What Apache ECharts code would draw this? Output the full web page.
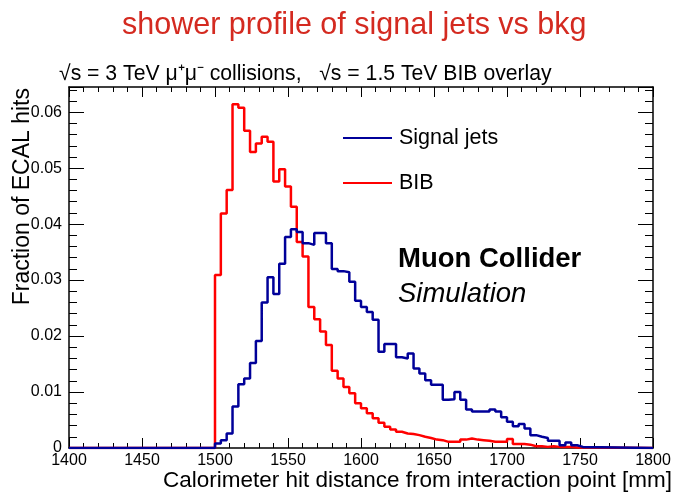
<!DOCTYPE html>
<html>
<head>
<meta charset="utf-8">
<script src="https://cdn.jsdelivr.net/npm/echarts@6/dist/echarts.min.js"></script>
<style>
html, body { margin: 0; padding: 0; background: #fff; }
#chart { width: 675px; height: 494px; }
</style>
</head>
<body>
<div id="chart"></div>
<script>
// histogram binning (mm)
var binStart = 1500;
var binWidth = 4;

// BIB, per bin starting at 1500 mm
var bibValues = [
	0.0309, 0.0419, 0.0461, 0.0614, 0.0608, 0.0567, 0.0529, 0.0544, 0.0556, 0.0547,
	0.0476, 0.0498, 0.0467, 0.0431, 0.0368, 0.0342, 0.0252, 0.0230, 0.0208, 0.0184,
	0.0138, 0.0124, 0.0109, 0.0098, 0.0080, 0.0071, 0.0062, 0.0053, 0.0045, 0.0038,
	0.0033, 0.0029, 0.0026, 0.0025, 0.0023, 0.0020, 0.0018, 0.0015, 0.0014, 0.0011,
	0.0011, 0.0011, 0.0015, 0.0017, 0.0015, 0.0014, 0.0013, 0.0011, 0.0011, 0.0011,
	0.0016, 0.0007, 0.0007, 0.0006, 0.0003, 0.0003, 0.0002, 0.0003, 0.0002, 0.0002,
	0.0002, 0.0001, 0.0001, 0.0001
];

// Signal jets, per bin starting at 1500 mm
var signalValues = [
	0.0008, 0.0014, 0.0026, 0.0074, 0.0114, 0.0124, 0.0152, 0.0191, 0.0260, 0.0305,
	0.0275, 0.0329, 0.0377, 0.0391, 0.0386, 0.0366, 0.0363, 0.0384, 0.0384, 0.0366,
	0.0320, 0.0316, 0.0314, 0.0297, 0.0263, 0.0252, 0.0243, 0.0229, 0.0172, 0.0186,
	0.0186, 0.0162, 0.0160, 0.0169, 0.0142, 0.0133, 0.0121, 0.0113, 0.0113, 0.0086,
	0.0087, 0.0100, 0.0086, 0.0069, 0.0065, 0.0065, 0.0065, 0.0069, 0.0065, 0.0055,
	0.0047, 0.0039, 0.0043, 0.0035, 0.0023, 0.0020, 0.0018, 0.0013, 0.0013, 0.0005,
	0.0010, 0.0005, 0.0002
];

var seriesNames = ['Signal jets', 'BIB'];
var xRange = [1400, 1800];
var yRange = [0, 0.0645];

var font = '"Liberation Sans", Arial, Helvetica, sans-serif';

// turn bin contents into step points (left edges + closing point)
function histPoints(values) {
	var pts = [[xRange[0], 0]];
	for (var i = 0; i < values.length; i++) {
		pts.push([binStart + i * binWidth, values[i]]);
	}
	pts.push([binStart + values.length * binWidth, 0]);
	pts.push([xRange[1], 0]);
	return pts;
}

var chart = echarts.init(document.getElementById('chart'));

var grid = { left: 69, right: 22, top: 87, bottom: 46 };

var option = {
	animation: false,
	textStyle: { fontFamily: font },
	title: [{
		text: 'shower profile of signal jets vs bkg',
		left: 117,
		top: 5,
		textStyle: { color: '#d42a20', fontSize: 30.5, fontWeight: 'normal', fontFamily: font }
	}, {
		text: '√s = 3 TeV μ⁺μ⁻ collisions,   √s = 1.5 TeV BIB overlay',
		left: 54,
		top: 59,
		textStyle: { color: '#000', fontSize: 21.2, fontWeight: 'normal', fontFamily: font }
	}],
	grid: grid,
	legend: {
		data: seriesNames,
		orient: 'vertical',
		left: 338,
		top: 122,
		icon: 'rect',
		itemWidth: 49,
		itemHeight: 2,
		itemGap: 23,
		textStyle: { fontSize: 21.5, color: '#000', fontFamily: font, padding: [0, 0, 0, 2] }
	},
	xAxis: [{
		type: 'value',
		min: xRange[0],
		max: xRange[1],
		interval: 50,
		position: 'bottom',
		axisLine: { onZero: false, lineStyle: { color: '#000', width: 1.5 } },
		axisTick: { inside: true, length: 10, lineStyle: { color: '#000' } },
		minorTick: { show: true, splitNumber: 5, length: 5, lineStyle: { color: '#000' } },
		axisLabel: {
			color: '#000', fontSize: 16, margin: 5, fontFamily: font,
			formatter: function (v) { return String(v); }
		},
		splitLine: { show: false }
	}, {
		type: 'value',
		min: xRange[0],
		max: xRange[1],
		interval: 50,
		position: 'top',
		axisLine: { onZero: false, lineStyle: { color: '#000', width: 1.5 } },
		axisTick: { inside: true, length: 10, lineStyle: { color: '#000' } },
		minorTick: { show: true, splitNumber: 5, length: 5, lineStyle: { color: '#000' } },
		axisLabel: { show: false },
		splitLine: { show: false }
	}],
	yAxis: [{
		type: 'value',
		min: yRange[0],
		max: yRange[1],
		interval: 0.01,
		position: 'left',
		axisLine: { show: true, onZero: false, lineStyle: { color: '#000', width: 1.5 } },
		axisTick: { show: true, inside: true, length: 15, lineStyle: { color: '#000' } },
		minorTick: { show: true, splitNumber: 5, length: 8, lineStyle: { color: '#000' } },
		axisLabel: {
			color: '#000', fontSize: 16, margin: 7, fontFamily: font, showMaxLabel: false,
			formatter: function (v) { return v === 0 ? '0' : v.toFixed(2); }
		},
		splitLine: { show: false }
	}, {
		type: 'value',
		min: yRange[0],
		max: yRange[1],
		interval: 0.01,
		position: 'right',
		axisLine: { show: true, onZero: false, lineStyle: { color: '#000', width: 1.5 } },
		axisTick: { show: true, inside: true, length: 15, lineStyle: { color: '#000' } },
		minorTick: { show: true, splitNumber: 5, length: 8, lineStyle: { color: '#000' } },
		axisLabel: { show: false },
		splitLine: { show: false }
	}],
	series: [{
		name: 'BIB',
		type: 'line',
		step: 'end',
		data: histPoints(bibValues),
		showSymbol: false,
		symbol: 'none',
		color: '#ff0000',
		lineStyle: { color: '#ff0000', width: 2.5 },
		z: 2
	}, {
		name: 'Signal jets',
		type: 'line',
		step: 'end',
		data: histPoints(signalValues),
		showSymbol: false,
		symbol: 'none',
		color: '#000099',
		lineStyle: { color: '#000099', width: 2.5 },
		z: 3
	}],
	graphic: [{
		type: 'text',
		x: 23,
		y: 88,
		rotation: Math.PI / 2,
		style: {
			text: 'Fraction of ECAL hits',
			font: '23px ' + font,
			fill: '#000',
			align: 'right',
			verticalAlign: 'middle'
		}
	}, {
		type: 'text',
		x: 672,
		y: 481,
		style: {
			text: 'Calorimeter hit distance from interaction point [mm]',
			font: '22.5px ' + font,
			fill: '#000',
			align: 'right',
			verticalAlign: 'middle'
		}
	}, {
		type: 'text',
		x: 398,
		y: 259,
		style: {
			text: 'Muon Collider',
			font: 'bold 27.5px ' + font,
			fill: '#000',
			align: 'left',
			verticalAlign: 'middle'
		}
	}, {
		type: 'text',
		x: 398,
		y: 294,
		style: {
			text: 'Simulation',
			font: 'italic 27.5px ' + font,
			fill: '#000',
			align: 'left',
			verticalAlign: 'middle'
		}
	}]
};

chart.setOption(option);
</script>
</body>
</html>
